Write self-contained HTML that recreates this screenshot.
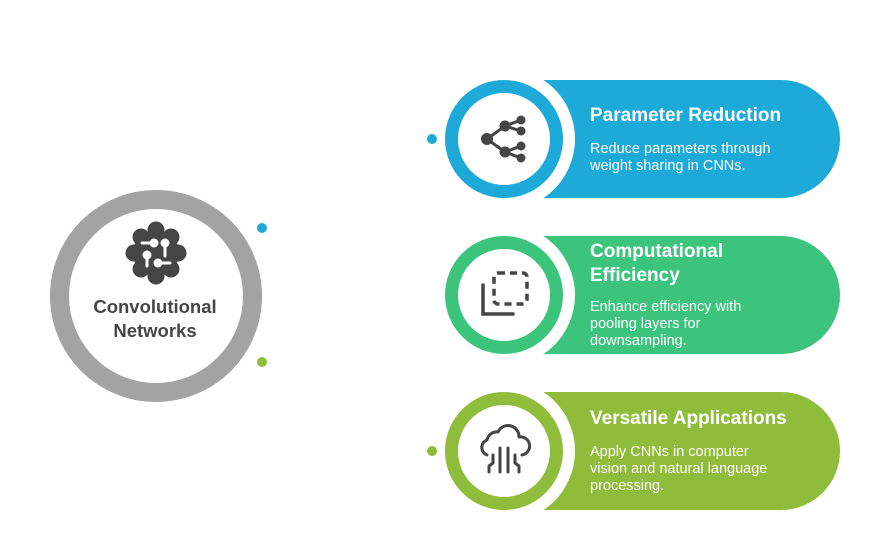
<!DOCTYPE html>
<html><head><style>
html,body{margin:0;padding:0;background:#fff}
svg{display:block}
text{font-family:"Liberation Sans",sans-serif}
</style></head><body>
<svg width="888" height="559" viewBox="0 0 888 559">
<circle cx="156" cy="296" r="96.5" fill="#fff" stroke="#a3a3a3" stroke-width="19"/>
<g fill="#454545">
<circle cx="156" cy="253" r="23"/>
<circle cx="141" cy="237" r="8.5"/><circle cx="156" cy="230" r="8.5"/><circle cx="171" cy="237" r="8.5"/>
<circle cx="178" cy="253" r="8.5"/><circle cx="171" cy="269" r="8.5"/><circle cx="156" cy="276" r="8.5"/>
<circle cx="141" cy="269" r="8.5"/><circle cx="134" cy="253" r="8.5"/>
</g>
<g stroke="#fff" stroke-width="3" stroke-linecap="round" fill="#fff">
<line x1="142" y1="243" x2="152" y2="243"/><circle cx="154" cy="243" r="3"/>
<line x1="165" y1="245" x2="165" y2="256"/><circle cx="165" cy="243" r="3"/>
<line x1="147" y1="257" x2="147" y2="266"/><circle cx="147" cy="255" r="3"/>
<line x1="158" y1="263" x2="170" y2="263"/><circle cx="158" cy="263" r="3"/>
</g>
<text x="155" y="313" font-size="18.5" font-weight="bold" fill="#454545" text-anchor="middle">Convolutional</text>
<text x="155" y="337" font-size="18.5" font-weight="bold" fill="#454545" text-anchor="middle">Networks</text>
<circle cx="262" cy="228" r="5" fill="#1eaad9"/>
<circle cx="262" cy="362" r="5" fill="#8fbc3a"/>

<path d="M543 80 H781 A59 59 0 0 1 781 198 H543 Z" fill="#1eaad9"/>
<circle cx="504" cy="139" r="71" fill="#fff"/>
<circle cx="504" cy="139" r="52.5" fill="#fff" stroke="#1eaad9" stroke-width="13"/>
<circle cx="432" cy="139" r="5" fill="#1eaad9"/>
<g stroke="#454545" stroke-width="3" fill="#454545">
<line x1="487" y1="139" x2="505" y2="126"/><line x1="487" y1="139" x2="505" y2="152"/>
<line x1="505" y1="126" x2="521" y2="120"/><line x1="505" y1="126" x2="521" y2="131"/>
<line x1="505" y1="152" x2="521" y2="146"/><line x1="505" y1="152" x2="521" y2="158"/>
</g>
<g fill="#454545"><circle cx="487" cy="139" r="6"/><circle cx="505" cy="126" r="5.5"/><circle cx="505" cy="152" r="5.5"/>
<circle cx="521" cy="120" r="4.5"/><circle cx="521" cy="131" r="4.5"/><circle cx="521" cy="146" r="4.5"/><circle cx="521" cy="158" r="4.5"/></g>
<text x="590" y="121" font-size="19" font-weight="bold" fill="#fff">Parameter Reduction</text>
<text x="590" y="153" font-size="14.5" fill="#fff">Reduce parameters through</text>
<text x="590" y="170" font-size="14.5" fill="#fff">weight sharing in CNNs.</text>

<path d="M543 236 H781 A59 59 0 0 1 781 354 H543 Z" fill="#3cc47c"/>
<circle cx="504" cy="295" r="71" fill="#fff"/>
<circle cx="504" cy="295" r="52.5" fill="#fff" stroke="#3cc47c" stroke-width="13"/>
<rect x="494" y="273" width="33" height="31" rx="4" fill="none" stroke="#454545" stroke-width="3.5" stroke-dasharray="7 5"/>
<path d="M483 285 V314 H513" fill="none" stroke="#454545" stroke-width="3.5" stroke-linecap="round"/>
<text x="590" y="257" font-size="19" font-weight="bold" fill="#fff">Computational</text>
<text x="590" y="281" font-size="19" font-weight="bold" fill="#fff">Efficiency</text>
<text x="590" y="311" font-size="14.5" fill="#fff">Enhance efficiency with</text>
<text x="590" y="328" font-size="14.5" fill="#fff">pooling layers for</text>
<text x="590" y="345" font-size="14.5" fill="#fff">downsampling.</text>

<path d="M543 392 H781 A59 59 0 0 1 781 510 H543 Z" fill="#8fbc3a"/>
<circle cx="504" cy="451" r="71" fill="#fff"/>
<circle cx="504" cy="451" r="52.5" fill="#fff" stroke="#8fbc3a" stroke-width="13"/>
<circle cx="432" cy="451" r="5" fill="#8fbc3a"/>
<g fill="none" stroke="#454545" stroke-width="3" stroke-linecap="round" stroke-linejoin="round">
<path d="M487 455 A8 8 0 0 1 487 440 A10 10 0 0 1 498 432 A11 11 0 0 1 519 437 A9 9 0 0 1 522 455"/>
<path d="M500 448 V472"/><path d="M508 448 V472"/>
<path d="M493 455 V463 L489 466 V472"/><path d="M515 455 V463 L519 466 V472"/>
</g>
<text x="590" y="424" font-size="19" font-weight="bold" fill="#fff">Versatile Applications</text>
<text x="590" y="456" font-size="14.5" fill="#fff">Apply CNNs in computer</text>
<text x="590" y="473" font-size="14.5" fill="#fff">vision and natural language</text>
<text x="590" y="490" font-size="14.5" fill="#fff">processing.</text>
</svg>
</body></html>
